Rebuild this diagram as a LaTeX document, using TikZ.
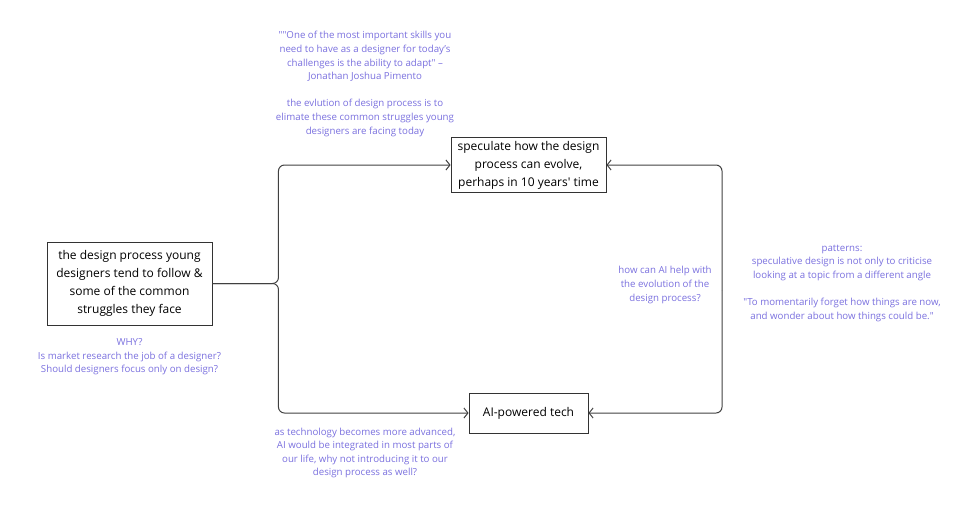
\documentclass[tikz,border=0pt]{standalone}
\usepackage{fontspec}
\setmainfont{Open Sans}
\usetikzlibrary{arrows.meta}
\definecolor{notecolor}{RGB}{122,112,222}
\tikzset{
  box/.style={draw=black!80, line width=0.9pt, align=center, inner sep=0pt, font=\fontsize{12}{18}\selectfont},
  note/.style={text=notecolor, align=center, font=\fontsize{9.7}{13.6}\selectfont},
  link/.style={draw=black!75, line width=1pt, rounded corners=6pt, -{Straight Barb[length=4pt,width=10pt]}}
}
\begin{document}
\begin{tikzpicture}[x=1pt,y=-1pt]
  \useasboundingbox (0,0) rectangle (960,504);
  \node[box, minimum width=165pt, minimum height=83pt] (designProcess) at (129.5,283.5) {the design process young\\designers tend to follow \&\\some of the common\\struggles they face};
  \node[box, minimum width=155pt, minimum height=55pt] (speculate) at (528.5,165) {speculate how the design\\process can evolve,\\perhaps in 10 years\textquotesingle{} time};
  \node[box, minimum width=119pt, minimum height=40pt] (aiTech) at (528.5,413) {AI-powered tech};

  \node[note] (quoteNote) at (365,84) {\textquotedbl\textquotedbl One of the most important skills you\\need to have as a designer for today’s\\challenges is the ability to adapt\textquotedbl{} –\\Jonathan Joshua Pimento\\[13.6pt]the evlution of design process is to\\elimate these common struggles young\\designers are facing today};
  \node[note] (whyNote) at (129.5,357) {WHY?\\Is market research the job of a designer?\\Should designers focus only on design?};
  \node[note] (techNote) at (365,453) {as technology becomes more advanced,\\AI would be integrated in most parts of\\our life, why not introducing it to our\\design process as well?};
  \node[note] (helpNote) at (665,285) {how can AI help with\\the evolution of the\\design process?};
  \node[note] (patternsNote) at (842,283) {patterns:\\speculative design is not only to criticise\\looking at a topic from a different angle\\[13.6pt]\textquotedbl To momentarily forget how things are now,\\and wonder about how things could be.\textquotedbl};

  \coordinate (rightRail) at (722,290);
  \draw[link] (designProcess.east) -- ++(66,0) |- (speculate.west);
  \draw[link] (designProcess.east) -- ++(66,0) |- (aiTech.west);
  \draw[link] (rightRail) |- (speculate.east);
  \draw[link] (rightRail) |- (aiTech.east);
\end{tikzpicture}
\end{document}
